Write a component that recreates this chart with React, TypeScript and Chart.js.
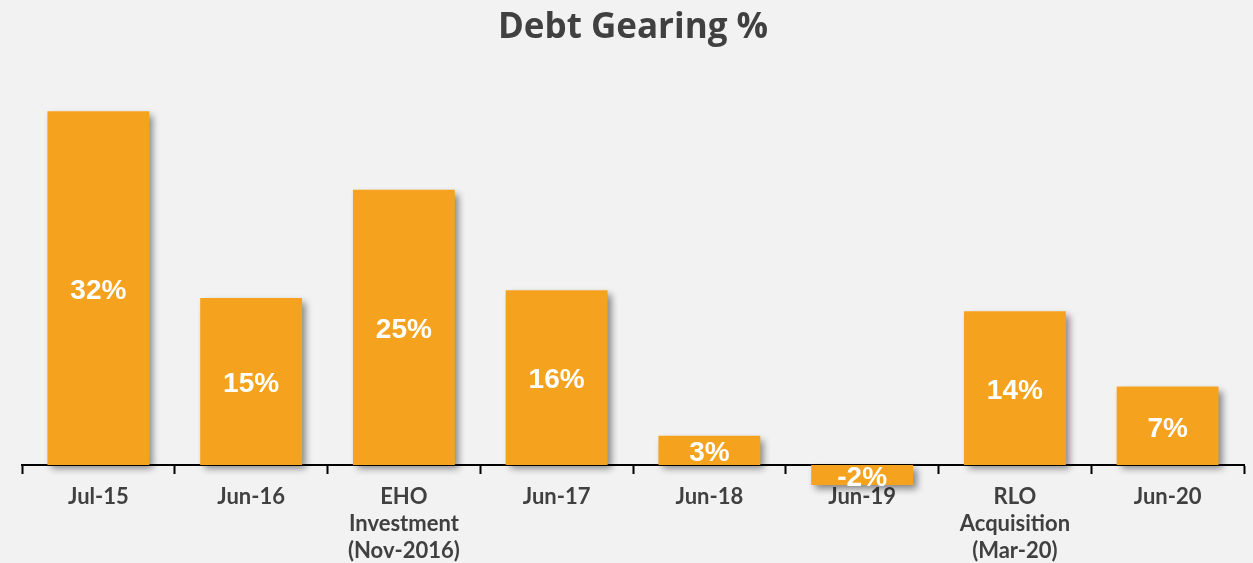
import React, { useEffect, useRef } from "react";
import { Chart, registerables } from "chart.js";

Chart.register(...registerables);

const categories: (string | string[])[] = [
  "Jul-15",
  "Jun-16",
  ["EHO", "Investment", "(Nov-2016)"],
  "Jun-17",
  "Jun-18",
  "Jun-19",
  ["RLO", "Acquisition", "(Mar-20)"],
  "Jun-20",
];
const gearingValues = [32, 15.1, 24.9, 15.8, 2.65, -1.8, 13.9, 7.1];
const valueLabels = ["32%", "15%", "25%", "16%", "3%", "-2%", "14%", "7%"];
const chartTitle = "Debt Gearing %";

const shadowPlugin = {
  id: "barShadow",
  beforeDatasetsDraw(chart: any) {
    const ctx = chart.ctx;
    ctx.save();
    ctx.shadowColor = "rgba(0,0,0,0.45)";
    ctx.shadowBlur = 7;
    ctx.shadowOffsetX = 4;
    ctx.shadowOffsetY = 4;
  },
  afterDatasetsDraw(chart: any) {
    chart.ctx.restore();
  },
};

const valueLabelPlugin = {
  id: "valueLabels",
  afterDatasetsDraw(chart: any) {
    const ctx = chart.ctx;
    const meta = chart.getDatasetMeta(0);
    ctx.save();
    ctx.fillStyle = "#ffffff";
    ctx.font = "bold 28px 'Liberation Sans', Arial, sans-serif";
    ctx.textAlign = "center";
    ctx.textBaseline = "middle";
    meta.data.forEach((bar: any, i: number) => {
      const { x, y, base } = bar.getProps(["x", "y", "base"], true);
      ctx.fillText(valueLabels[i], x, (y + base) / 2 + 3);
    });
    ctx.restore();
  },
};

export default function App() {
  const canvasRef = useRef<HTMLCanvasElement | null>(null);

  useEffect(() => {
    if (!canvasRef.current) return;
    const chart = new Chart(canvasRef.current, {
      type: "bar",
      data: {
        labels: categories as any,
        datasets: [
          {
            data: gearingValues,
            backgroundColor: "#F5A31F",
            borderWidth: 0,
            barPercentage: 0.667,
            categoryPercentage: 1,
          },
        ],
      },
      options: {
        animation: false,
        responsive: true,
        maintainAspectRatio: false,
        layout: { padding: { left: 22, right: 9, top: 0, bottom: 9.5 } },
        plugins: {
          legend: { display: false },
          tooltip: { enabled: false },
          title: {
            display: true,
            text: chartTitle,
            color: "#404040",
            font: { family: "'Open Sans', sans-serif", size: 35, weight: "bold" },
            padding: { top: 7, bottom: 18 },
          },
        },
        scales: {
          x: {
            position: { y: 0 } as any,
            offset: true,
            grid: {
              display: true,
              drawOnChartArea: false,
              drawTicks: true,
              tickLength: 8,
              tickWidth: 2,
              tickColor: "#000000",
              offset: true,
            },
            border: { display: true, color: "#000000", width: 2 },
            ticks: {
              color: "#404040",
              padding: 10,
              maxRotation: 0,
              autoSkip: false,
              font: { family: "Lato, sans-serif", size: 22, weight: "bold", lineHeight: 1.23 },
            },
          },
          y: {
            display: false,
            min: -8,
            max: 36,
          },
        },
      },
      plugins: [shadowPlugin, valueLabelPlugin],
    });
    return () => chart.destroy();
  }, []);

  return (
    <div
      style={{
        position: "fixed",
        left: 0,
        top: 0,
        width: 1253,
        height: 563,
        background: "#F2F2F2",
      }}
    >
      <canvas ref={canvasRef} />
    </div>
  );
}
